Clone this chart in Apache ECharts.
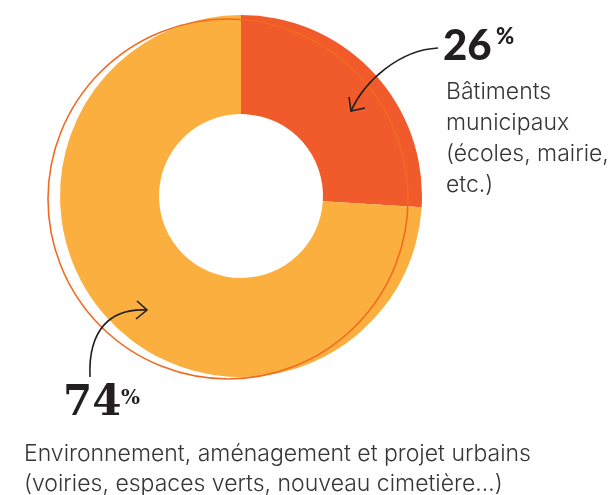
<!DOCTYPE html>
<html>
<head>
<meta charset="utf-8">
<script src="https://cdn.jsdelivr.net/npm/echarts@6/dist/echarts.min.js"></script>
<style>
  html, body { margin: 0; padding: 0; background: #fff; }
  #chart { width: 610px; height: 495px; }
</style>
</head>
<body>
<div id="chart"></div>
<script>
// données
var categories = ['Bâtiments municipaux', 'Environnement, aménagement et projet urbains']
var values = [26, 74]
var labelLines1 = ['Bâtiments', 'municipaux', '(écoles, mairie,', 'etc.)']
var labelLines2 = ['Environnement, aménagement et projet urbains', '(voiries, espaces verts, nouveau cimetière…)']
var colors = ['#F15A2A', '#FBAF3F']

var myChart = echarts.init(document.getElementById('chart'))

var textColor = '#353535'
var bodyFont = 'Inter, "Open Sans", sans-serif'
var ink = '#231f20'

function txt(x, y, s, font, size, weight) {
  return {
    type: 'text',
    left: x, top: y,
    z: 20,
    style: { text: s, fontFamily: font, fontWeight: weight, fontSize: size, fill: ink }
  }
}

var option = {
  animation: false,
  series: [{
    name: 'Répartition',
    type: 'pie',
    center: [241, 196],
    radius: [82, 181],
    startAngle: 90,
    clockwise: true,
    silent: true,
    label: { show: false },
    labelLine: { show: false },
    itemStyle: { borderWidth: 0 },
    data: categories.map(function (c, i) {
      return { name: c, value: values[i], itemStyle: { color: colors[i] } }
    })
  }],
  graphic: [
    // cercle de contour décalé
    {
      type: 'circle',
      z: 10,
      shape: { cx: 228, cy: 199, r: 180 },
      style: { fill: 'none', stroke: '#F26A21', lineWidth: 1.6 }
    },
    // flèche 26 %
    {
      type: 'bezierCurve',
      z: 15,
      shape: { x1: 438, y1: 48, x2: 351, y2: 111, cpx1: 400, cpy1: 50, cpx2: 365, cpy2: 80 },
      style: { stroke: ink, lineWidth: 1.6, fill: 'none' }
    },
    {
      type: 'polyline',
      z: 15,
      shape: { points: [[349, 97], [351, 111], [365, 108]] },
      style: { stroke: ink, lineWidth: 1.6, fill: 'none' }
    },
    // flèche 74 %
    {
      type: 'bezierCurve',
      z: 15,
      shape: { x1: 90, y1: 377, x2: 147, y2: 310, cpx1: 88, cpy1: 330, cpx2: 110, cpy2: 308 },
      style: { stroke: ink, lineWidth: 1.6, fill: 'none' }
    },
    {
      type: 'polyline',
      z: 15,
      shape: { points: [[137, 301], [147, 310], [136, 319]] },
      style: { stroke: ink, lineWidth: 1.6, fill: 'none' }
    },
    txt(443, 25, String(values[0]), 'Lato, Inter, sans-serif', 42, 900),
    txt(496, 26, '%', 'Lato, Inter, sans-serif', 22, 900),
    txt(63, 383, String(values[1]), '"DejaVu Serif", serif', 42, 'bold'),
    txt(121, 389, '%', '"DejaVu Serif", serif', 20, 'bold'),
    {
      type: 'text',
      left: 446, top: 77,
      z: 20,
      style: {
        text: labelLines1.join('\n'),
        fontFamily: bodyFont, fontWeight: 300, fontSize: 23, lineHeight: 31, fill: textColor
      }
    },
    {
      type: 'text',
      left: 24, top: 439,
      z: 20,
      style: {
        text: labelLines2.join('\n'),
        fontFamily: bodyFont, fontWeight: 300, fontSize: 23, lineHeight: 30, fill: textColor
      }
    }
  ]
}

myChart.setOption(option)
</script>
</body>
</html>
